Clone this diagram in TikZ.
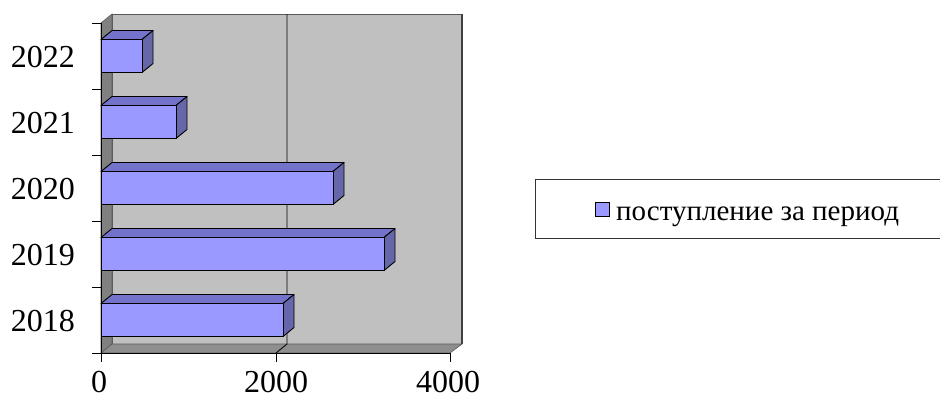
\documentclass[tikz,border=0pt]{standalone}
\usepackage{fontspec}
\setmainfont{Liberation Serif}
\definecolor{backwall}{HTML}{C0C0C0}
\definecolor{sidewall}{HTML}{808080}
\definecolor{floorc}{HTML}{8E8E8E}
\definecolor{barfront}{HTML}{9999FF}
\definecolor{bartop}{HTML}{7373CC}
\definecolor{barside}{HTML}{6666AA}
\begin{document}
\begin{tikzpicture}[x=1pt,y=-1pt,
  lbl/.style={font=\fontsize{32}{36}\selectfont, inner sep=0pt},
  leg/.style={font=\fontsize{29}{34}\selectfont, inner sep=0pt},
  wall/.style={draw=gray!70!black, line width=0.6pt},
  baredge/.style={draw=black, line width=0.9pt, line join=round},
  axisline/.style={draw=black, line width=0.8pt}]
\useasboundingbox (0,0) rectangle (940,400);
% walls
\fill[backwall] (112,14) rectangle (462,344);
\draw[wall] (112,344) -- (112,14) -- (462,14);
\draw[black!75, line width=1.2pt] (462,14) -- (462,344);
\filldraw[fill=sidewall, wall] (101,23) -- (112,14) -- (112,344) -- (101,353) -- cycle;
\filldraw[fill=floorc, wall] (101,353) -- (112,344) -- (462,344) -- (450,353) -- cycle;
% gridline 2000
\draw[black, line width=0.8pt] (276,353) -- (287,344) -- (287,14);
% bars
\foreach \c/\xr in {56/142, 122/176, 188/333, 254/384, 320/283} {
  \pgfmathsetmacro\yt{\c-16.5}
  \pgfmathsetmacro\yb{\c+16.5}
  \filldraw[fill=bartop, baredge] (101,\yt) -- (112,\yt-9) -- (\xr+11,\yt-9) -- (\xr,\yt) -- cycle;
  \filldraw[fill=barside, baredge] (\xr,\yt) -- (\xr+11,\yt-9) -- (\xr+11,\yb-9) -- (\xr,\yb) -- cycle;
  \filldraw[fill=barfront, baredge] (101,\yt) rectangle (\xr,\yb);
}
% axes
\draw[axisline] (101,23) -- (101,353) -- (450,353);
\foreach \y in {23,89,155,221,287,353} \draw[axisline] (92,\y) -- (101,\y);
\foreach \x in {101,276,450} \draw[axisline] (\x,353) -- (\x,362);
% category labels
\node[lbl, anchor=base east] (y2022) at (75,67) {2022};
\node[lbl, anchor=base east] (y2021) at (75,133) {2021};
\node[lbl, anchor=base east] (y2020) at (75,199) {2020};
\node[lbl, anchor=base east] (y2019) at (75,265) {2019};
\node[lbl, anchor=base east] (y2018) at (75,331) {2018};
% value labels
\node[lbl, anchor=base] (x0) at (99,392) {0};
\node[lbl, anchor=base] (x2000) at (276,392) {2000};
\node[lbl, anchor=base] (x4000) at (448,392) {4000};
% legend
\draw[black!80, line width=0.8pt] (941,179) -- (535,179) -- (535,238) -- (941,238);
\filldraw[fill=barfront, draw=black, line width=1.6pt] (595.5,202.5) rectangle (609.5,216.5);
\node[leg, anchor=base west] (legtext) at (616,220) {поступление за период};
\end{tikzpicture}
\end{document}
